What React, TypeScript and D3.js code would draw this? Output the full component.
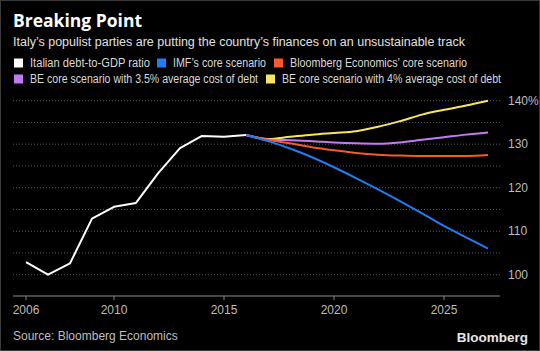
import React from 'react';
import * as d3 from 'd3';

const width = 540;
const height = 351;

// historical debt-to-GDP, 2006-2016
const histYears = [2006, 2007, 2008, 2009, 2010, 2011, 2012, 2013, 2014, 2015, 2016];
const histValues = [102.9, 100.0, 102.6, 112.9, 115.6, 116.5, 123.3, 129.1, 131.9, 131.7, 132.1];

// projections, 2016-2027
const projYears = [2016, 2017, 2018, 2019, 2020, 2021, 2022, 2023, 2024, 2025, 2026, 2027];
const imfCore = [132.1, 130.7, 129.0, 127.0, 124.7, 122.2, 119.6, 116.9, 114.1, 111.2, 108.6, 106.0];
const beCore = [132.1, 131.0, 130.2, 129.3, 128.6, 128.0, 127.6, 127.4, 127.3, 127.3, 127.3, 127.5];
const be35 = [132.1, 131.1, 130.9, 130.7, 130.4, 130.2, 130.1, 130.4, 131.0, 131.6, 132.2, 132.7];
const be4 = [132.1, 131.2, 131.7, 132.2, 132.6, 133.0, 134.0, 135.3, 136.8, 137.9, 138.9, 140.0];

const xTicks = [2006, 2010, 2015, 2020, 2025];
const yTicks = [100, 110, 120, 130, 140];
const gridTicks = [100, 105, 110, 115, 120, 125, 130, 135, 140];

const legendRows = [
  [
    { label: 'Italian debt-to-GDP ratio', color: '#ffffff' },
    { label: 'IMF\u2019s core scenario', color: '#1f7cf2' },
    { label: 'Bloomberg Economics\u2019 core scenario', color: '#f45a2a' },
  ],
  [
    { label: 'BE core scenario with 3.5% average cost of debt', color: '#c27bf4' },
    { label: 'BE core scenario with 4% average cost of debt', color: '#f8e462' },
  ],
];

const font = '"Liberation Sans", Arial, sans-serif';

const App = () => {
  const x = d3.scaleLinear().domain([2006, 2027]).range([26, 488]);
  const y = d3.scaleLinear().domain([100, 140]).range([274.7, 100.7]);
  const plotLeft = 13;
  const plotRight = 500;
  const axisY = 296;

  const histLine = d3
    .line<number>()
    .x((_, i) => x(histYears[i]))
    .y(d => y(d));

  const projLine = d3
    .line<number>()
    .x((_, i) => x(projYears[i]))
    .y(d => y(d))
    .curve(d3.curveMonotoneX);

  const series = [
    { values: be4, color: '#f8e462' },
    { values: be35, color: '#c27bf4' },
    { values: beCore, color: '#f45a2a' },
    { values: imfCore, color: '#1f7cf2' },
  ];

  // legend placement and text widths (narrow font in the original)
  const legendX = [
    [13, 156, 273],
    [13, 265],
  ];
  const legendW = [
    [120, 93, 177],
    [228, 219],
  ];

  return (
    <svg
      width={width}
      height={height}
      style={{ position: 'absolute', left: 0, top: 0, fontFamily: font }}
    >
      <rect x={0.5} y={0.5} width={width - 1} height={height - 1} fill="#000" stroke="#3a3a3a" />
      <text x={13} y={27} fill="#fff" fontSize={17.5} fontWeight="bold" fontFamily='"Open Sans", sans-serif'>
        Breaking Point
      </text>
      <text x={13} y={46} fill="#e0e0e0" fontSize={12.5}>
        Italy’s populist parties are putting the country’s finances on an unsustainable track
      </text>

      {legendRows.map((row, r) =>
        row.map((item, i) => (
          <g key={item.label} transform={`translate(${legendX[r][i]},${63 + r * 16})`}>
            <rect x={1} y={-4.5} width={9} height={9} fill={item.color} />
            <text
              x={17}
              dy="0.35em"
              fill="#d8d8d8"
              fontSize={12.5}
              textLength={legendW[r][i]}
              lengthAdjust="spacingAndGlyphs"
            >
              {item.label}
            </text>
          </g>
        ))
      )}

      {/* grid */}
      {gridTicks.map(t => (
        <line
          key={t}
          x1={plotLeft}
          x2={plotRight}
          y1={y(t)}
          y2={y(t)}
          stroke="#5a5a5a"
          strokeWidth={1}
          strokeDasharray="1,2"
        />
      ))}
      {yTicks.map(t => (
        <text key={t} x={508} y={y(t)} dy="0.35em" fill="#bdbdbd" fontSize={12}>
          {t === 140 ? '140%' : t}
        </text>
      ))}

      {/* x axis */}
      <line x1={plotLeft} x2={plotRight} y1={axisY} y2={axisY} stroke="#8a8a8a" />
      {xTicks.map(t => (
        <g key={t} transform={`translate(${x(t)},${axisY})`}>
          <line y2={4} stroke="#8a8a8a" />
          <text y={18} textAnchor="middle" fill="#bdbdbd" fontSize={12}>
            {t}
          </text>
        </g>
      ))}

      {/* lines */}
      {series.map(s => (
        <path key={s.color} d={projLine(s.values) || ''} fill="none" stroke={s.color} strokeWidth={2} />
      ))}
      <path
        d={histLine(histValues) || ''}
        fill="none"
        stroke="#fff"
        strokeWidth={2}
        strokeLinejoin="round"
      />

      <text x={13} y={340} fill="#bdbdbd" fontSize={12}>
        Source: Bloomberg Economics
      </text>
      <text x={528} y={342} textAnchor="end" fill="#e6e6e6" fontSize={13.5} fontWeight="bold">
        Bloomberg
      </text>
    </svg>
  );
};

export default App;
